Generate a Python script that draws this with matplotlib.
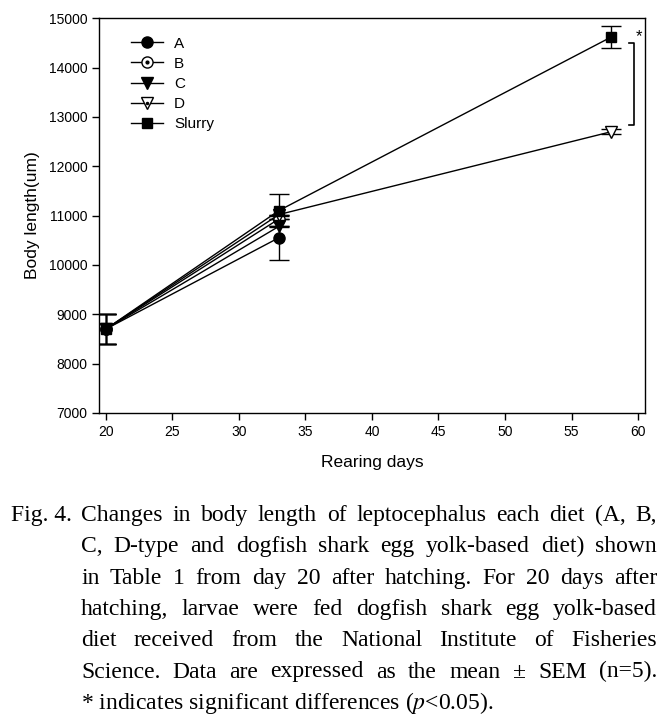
import matplotlib
matplotlib.use("Agg")
import matplotlib.pyplot as plt
from matplotlib.lines import Line2D
import numpy as np

# Data
days = [20, 33, 58]
groups = ["A", "B", "C", "D", "Slurry"]
A_mean = [8700, 10550]
A_err = [300, 450]
B_mean = [8700, 10930]
B_err = [300, 0]
C_mean = [8700, 10780]
C_err = [300, 0]
D_mean = [8700, 11020, 12700]
D_err = [300, 0, 50]
S_mean = [8700, 11100, 14620]
S_err = [300, 330, 220]

lines = [
    "Changes in body length of leptocephalus each diet (A, B,",
    "C, D-type and dogfish shark egg yolk-based diet) shown",
    "in Table 1 from day 20 after hatching. For 20 days after",
    "hatching, larvae were fed dogfish shark egg yolk-based",
    "diet received from the National Institute of Fisheries",
    "Science. Data are expressed as the mean \u00b1 SEM (n=5).",
    "* indicates significant differences ($\\mathit{p}$<0.05).",
]

plt.rcParams['font.family'] = ['Liberation Sans', 'DejaVu Sans']
plt.rcParams['mathtext.fontset'] = 'stix'

fig = plt.figure(figsize=(6.66, 7.27), dpi=100)
ax = fig.add_axes([0.149, 0.432, 0.819, 0.543])

lw = 1.0
ms = 8
kw = dict(color='black', lw=lw, capsize=7, elinewidth=1, capthick=1)

ax.errorbar(days[:2], A_mean, yerr=A_err, marker='o', ms=ms,
            mfc='black', mec='black', **kw)
ax.errorbar(days[:2], B_mean, yerr=B_err, marker='o', ms=ms,
            mfc='white', mec='black', **kw)
ax.plot(days[:2], B_mean, ls='none', marker='o', ms=2, color='black')
ax.errorbar(days[:2], C_mean, yerr=C_err, marker='v', ms=ms,
            mfc='black', mec='black', **kw)
ax.errorbar(days, D_mean, yerr=D_err, marker='v', ms=ms,
            mfc='white', mec='black', **kw)
ax.plot(days, np.array(D_mean) + 60, ls='none', marker='o', ms=1.5,
        color='black')
ax.errorbar(days, S_mean, yerr=S_err, marker='s', ms=ms - 1,
            mfc='black', mec='black', **kw)

# significance bracket
ax.plot([59.35, 59.7, 59.7, 59.35], [14500, 14500, 12830, 12830],
        color='black', lw=1.2)
ax.text(59.85, 14620, "*", fontsize=12, ha='left', va='center')

ax.set_xlim(19.5, 60.5)
ax.set_ylim(7000, 15000)
ax.set_xticks(range(20, 61, 5))
ax.set_yticks(range(7000, 15001, 1000))
ax.tick_params(direction='out', length=5, width=1, labelsize=10)
ax.set_xlabel("Rearing days", fontsize=12.5, labelpad=12)
ax.set_ylabel("Body length(um)", fontsize=12.5, labelpad=6)
for s in ax.spines.values():
    s.set_linewidth(1)

# legend proxies (line + marker, no error bars)
hA = Line2D([], [], color='black', lw=lw, marker='o', ms=ms, mfc='black')
hB = Line2D([], [], color='black', lw=lw, marker='o', ms=ms, mfc='white')
dB = Line2D([], [], ls='none', marker='o', ms=2, color='black')
hC = Line2D([], [], color='black', lw=lw, marker='v', ms=ms, mfc='black')
hD = Line2D([], [], color='black', lw=lw, marker='v', ms=ms, mfc='white')
dD = Line2D([], [], ls='none', marker='o', ms=1.5, color='black')
hS = Line2D([], [], color='black', lw=lw, marker='s', ms=ms - 1, mfc='black')
ax.legend([hA, (hB, dB), hC, (hD, dD), hS], groups, loc='upper left',
          frameon=False, fontsize=11, handlelength=2.1, handletextpad=0.7,
          labelspacing=0.4, borderpad=0, borderaxespad=0,
          bbox_to_anchor=(32 / 546, 0.953))

# caption, justified
serif = 'Liberation Serif'
fsize = 17
fig.text(11 / 666, 1 - 521 / 727, "Fig. 4.", fontsize=fsize, family=serif,
         va='baseline', ha='left')
fig.canvas.draw()
rend = fig.canvas.get_renderer()
x0, x1 = 81, 657
for i, line in enumerate(lines):
    y = 1 - (521 + i * 31.3) / 727
    if i == len(lines) - 1:
        fig.text(x0 / 666, y, line, fontsize=fsize, family=serif,
                 va='baseline', ha='left')
        continue
    words = line.split(" ")
    ts = [fig.text(0, y, w, fontsize=fsize, family=serif, va='baseline',
                   ha='left') for w in words]
    widths = [t.get_window_extent(rend).width for t in ts]
    gap = (x1 - x0 - sum(widths)) / (len(words) - 1)
    xp = x0
    for t, wdt in zip(ts, widths):
        t.set_x(xp / 666)
        xp += wdt + gap

fig.savefig("out.png", dpi=100)
